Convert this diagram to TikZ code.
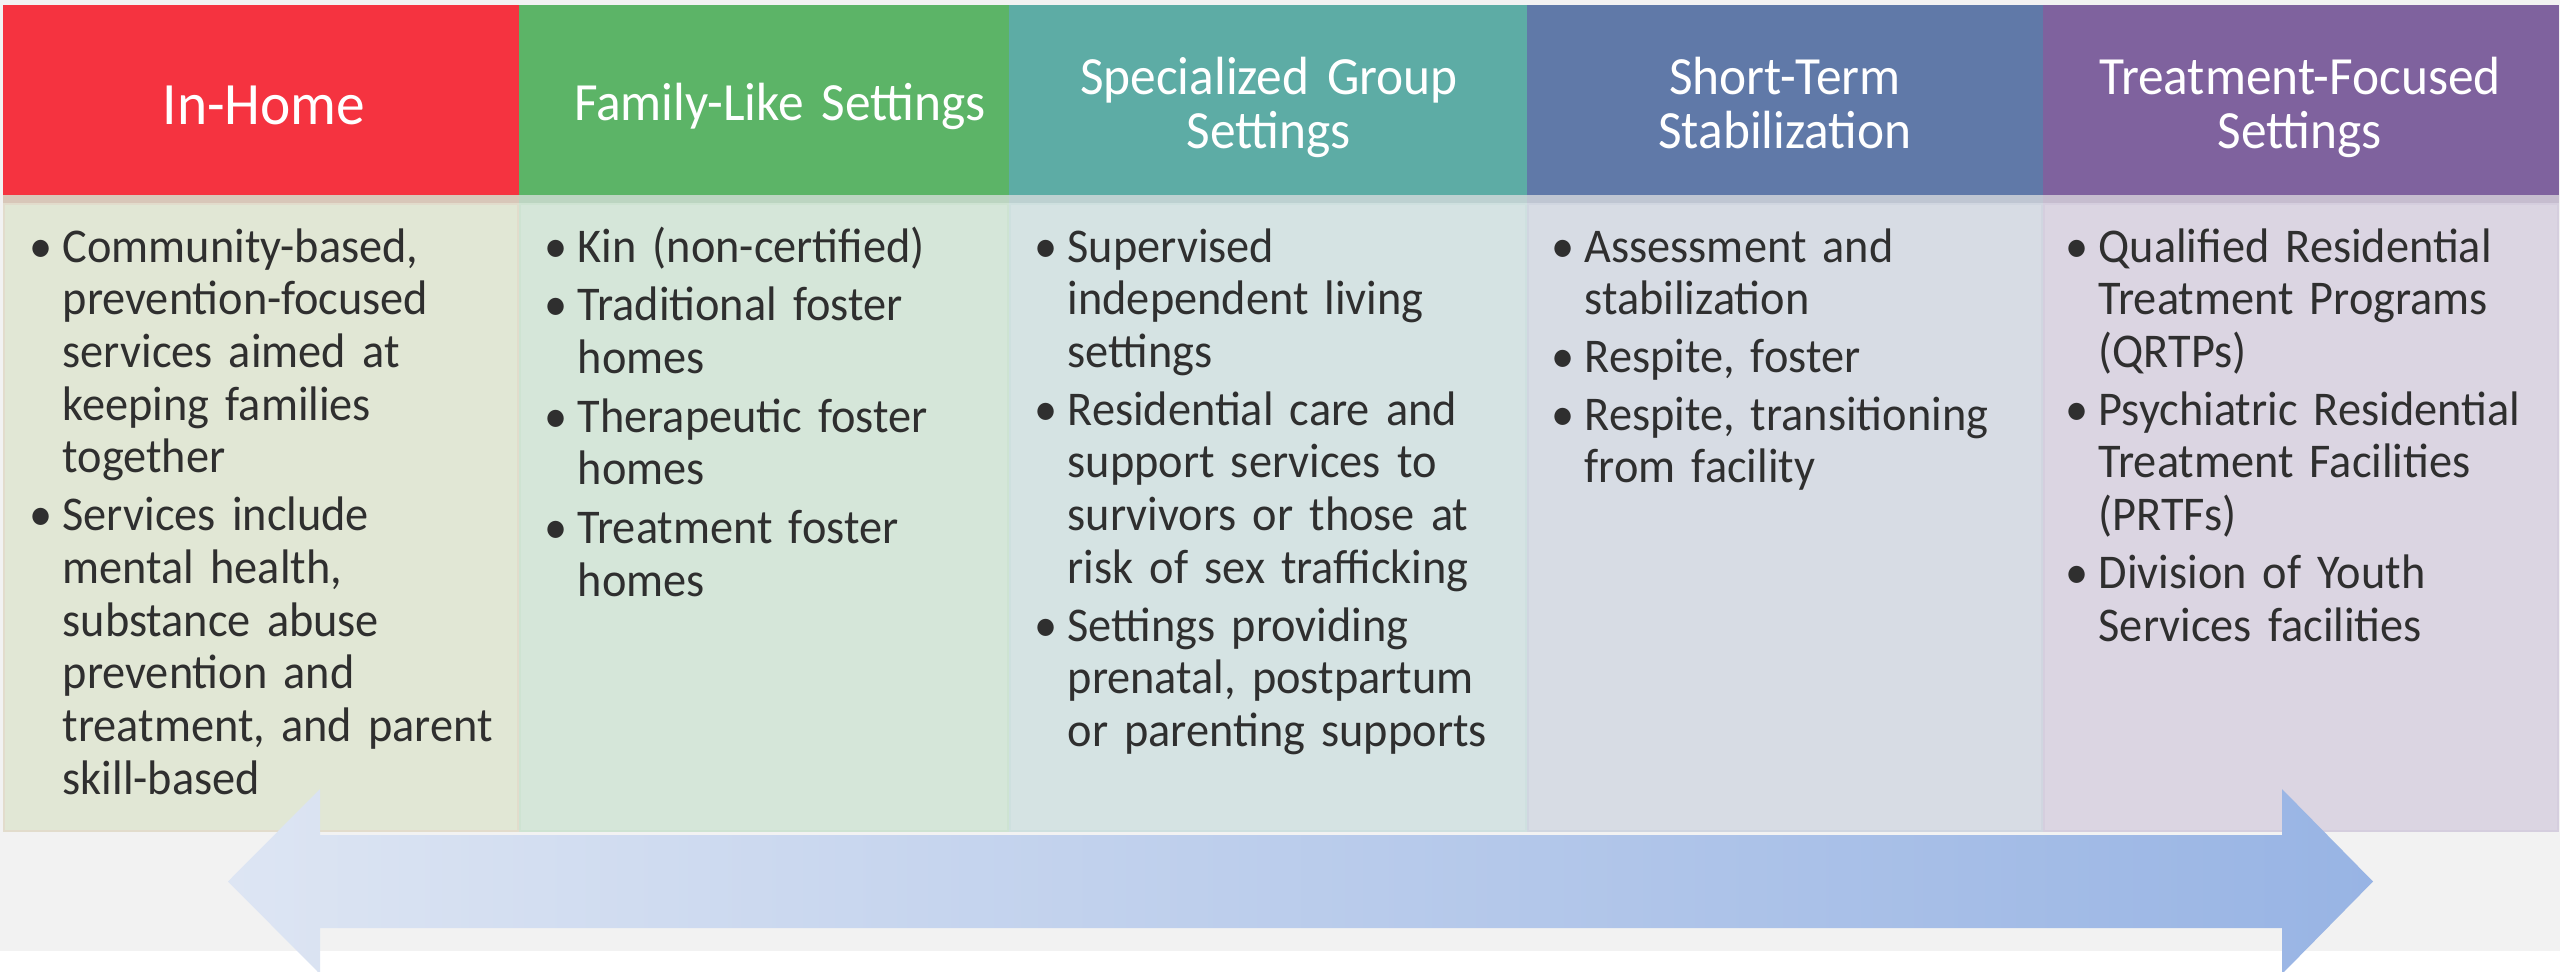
\documentclass[tikz,border=0pt]{standalone}
\usepackage{fontspec}
\setmainfont{Carlito}[FakeStretch=0.955]
\definecolor{bg}{HTML}{F2F2F2}
\definecolor{hA}{HTML}{F53340}
\definecolor{hB}{HTML}{5CB467}
\definecolor{hC}{HTML}{5DACA5}
\definecolor{hD}{HTML}{6079A8}
\definecolor{hE}{HTML}{7F629E}
\definecolor{bA}{HTML}{E1E7D5}
\definecolor{bB}{HTML}{D5E6D9}
\definecolor{bC}{HTML}{D5E3E3}
\definecolor{bD}{HTML}{D7DCE4}
\definecolor{bE}{HTML}{DBD5E2}
\definecolor{txt}{HTML}{2F2F2F}
\definecolor{arL}{HTML}{DDE5F3}
\definecolor{arR}{HTML}{98B4E4}
\newcommand\bul{\leavevmode\llap{\makebox[0pt][c]{•}\hspace{2.2mm}}}
\begin{document}
\begin{tikzpicture}[x=0.1mm,y=-0.1mm,
  hdrtext/.style={text=white, align=center, text width=50mm, inner sep=0pt,
    font=\fontsize{15.3}{15.37}\selectfont, anchor=base},
  bodytext/.style={text=txt, align=left, text width=47mm, inner sep=0pt,
    font=\fontsize{13.8}{15.0}\selectfont, anchor=base west},
]
\useasboundingbox (0,0) rectangle (2560,971);
\clip (0,0) rectangle (2560,971);
\fill[white] (0,0) rectangle (2560,971);
\fill[bg] (0,0) rectangle (2560,951);
\foreach \l/\r/\h/\b in {3/519/hA/bA, 519/1009/hB/bB, 1009/1527/hC/bC, 1527/2043/hD/bD, 2043/2559/hE/bE} {
  \fill[\h] (\l,5) rectangle (\r,195);
  \fill[\b!88!\h!95!black] (\l,195) rectangle (\r,204);
  \fill[\b, draw=\b!94!\h, line width=0.2mm] (\l+1,204) rectangle (\r-1,831);
}
\shade[left color=arL, right color=arR] (228,881.5) -- (320,789) -- (320,835) -- (2282,835) -- (2282,789) -- (2373,881.5) -- (2282,974) -- (2282,928) -- (320,928) -- (320,974) -- cycle;

\node[hdrtext, font=\fontsize{17.1}{18}\selectfont] (h1) at (264,124) {In-Home};
\node[hdrtext] (h2) at (780,120) {Family-Like Settings};
\node[hdrtext] (h3) at (1269,94) {Specialized Group\\Settings};
\node[hdrtext] (h4) at (1785,94) {Short-Term\\Stabilization};
\node[hdrtext] (h5) at (2300,94) {Treatment-Focused\\Settings};

\node[bodytext] (t1) at (62,262) {\bul Community-based,\\prevention-focused\\services aimed at\\keeping families\\together\\[0.5mm]\bul Services include\\mental health,\\substance abuse\\prevention and\\treatment, and parent\\skill-based};
\node[bodytext] (t2) at (577,262) {\bul Kin (non-certified)\\[0.6mm]\bul Traditional foster\\homes\\[0.6mm]\bul Therapeutic foster\\homes\\[0.6mm]\bul Treatment foster\\homes};
\node[bodytext] (t3) at (1067,262) {\bul Supervised\\independent living\\settings\\[0.5mm]\bul Residential care and\\support services to\\survivors or those at\\risk of sex trafficking\\[0.5mm]\bul Settings providing\\prenatal, postpartum\\or parenting supports};
\node[bodytext] (t4) at (1584,262) {\bul Assessment and\\stabilization\\[0.5mm]\bul Respite, foster\\[0.5mm]\bul Respite, transitioning\\from facility};
\node[bodytext] (t5) at (2098,262) {\bul Qualified Residential\\Treatment Programs\\(QRTPs)\\[0.5mm]\bul Psychiatric Residential\\Treatment Facilities\\(PRTFs)\\[0.5mm]\bul Division of Youth\\Services facilities};
\end{tikzpicture}
\end{document}
